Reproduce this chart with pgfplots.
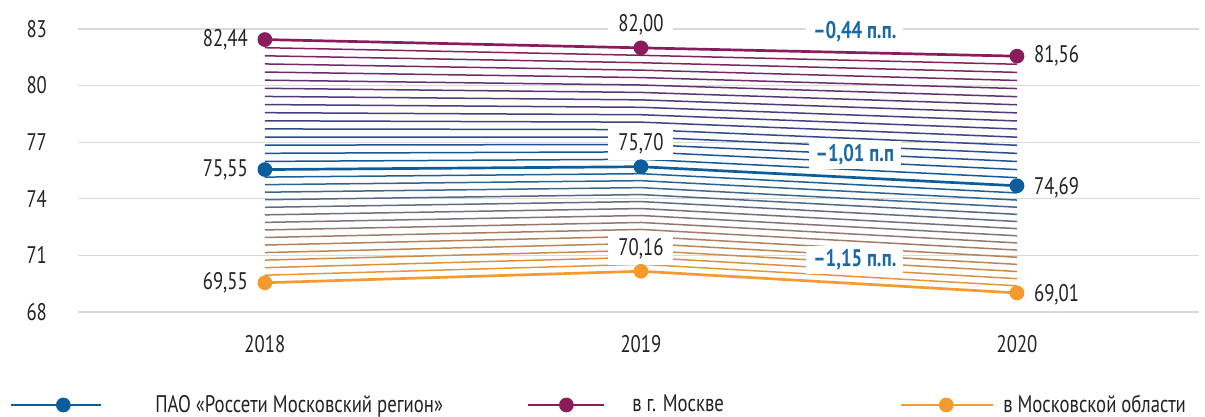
\documentclass[border=0pt]{standalone}
\usepackage{pgfplots}
\pgfplotsset{compat=1.18}
\usepackage{fontspec}
\setmainfont{PT Sans}[FakeStretch=0.78]

\definecolor{mcol}{HTML}{8B1C5C}
\definecolor{pcol}{HTML}{0B5D9C}
\definecolor{ocol}{HTML}{F59A2C}
\definecolor{midc}{HTML}{8C7476}
\definecolor{lcol}{HTML}{1B68A6}
\definecolor{tcol}{HTML}{222222}
\definecolor{gcol}{HTML}{D9D9D9}

\pgfplotsset{
  imgA/.style={legend image code/.code={%
    \draw[pcol, line width=1.35pt, mark=*, mark size=3pt, mark repeat=2, mark phase=2] plot coordinates {(0pt,0pt) (26pt,0pt) (45pt,0pt)};
    \path[draw=none] (0pt,0pt) -- (72pt,0pt);}},
  imgB/.style={legend image code/.code={%
    \draw[mcol, line width=1.35pt, mark=*, mark size=3pt, mark repeat=2, mark phase=2] plot coordinates {(0pt,0pt) (19pt,0pt) (38pt,0pt)};
    \path[draw=none] (0pt,0pt) -- (52pt,0pt);}},
  imgC/.style={legend image code/.code={%
    \draw[ocol, line width=1.35pt, mark=*, mark size=3pt, mark repeat=2, mark phase=2] plot coordinates {(0pt,0pt) (22.5pt,0pt) (46pt,0pt)};
    \path[draw=none] (0pt,0pt) -- (51pt,0pt);}},
  band/.style={line width=0.75pt, forget plot},
  serie/.style={line width=1.35pt, mark=*, mark size=3pt},
}

\begin{document}
\begin{tikzpicture}[font=\fontsize{12}{14}\selectfont]
\begin{axis}[
  at={(0pt,0pt)}, anchor=south west,
  scale only axis,
  width=560.5pt, height=141.5pt,
  xmin=2017.503, xmax=2020.484,
  ymin=68, ymax=83,
  clip=false,
  xtick={2018,2019,2020},
  xticklabels={2018,2019,2020},
  ytick={68,71,74,77,80,83},
  /pgf/number format/assume math mode=true,
  ymajorgrids,
  major grid style={draw=gcol, line width=0.6pt},
  axis line style={draw=none},
  tick style={draw=none},
  ticklabel style={text=tcol, font=\fontsize{12}{14}\selectfont},
  yticklabel style={xshift=-12pt},
  xticklabel style={yshift=-8pt},
  legend columns=3,
  legend style={at={(rel axis cs:0,0)}, anchor=west, xshift=-34pt, yshift=-46.5pt,
    draw=none, fill=none, inner sep=0pt, outer sep=0pt,
    nodes={inner sep=0pt, text=tcol}},
]
% thin lines between Moscow and PAO
\addplot[band, mcol!94!pcol] coordinates {(2018,82.009) (2019,81.606) (2020,81.131)};
\addplot[band, mcol!88!pcol] coordinates {(2018,81.579) (2019,81.213) (2020,80.701)};
\addplot[band, mcol!81!pcol] coordinates {(2018,81.148) (2019,80.819) (2020,80.272)};
\addplot[band, mcol!75!pcol] coordinates {(2018,80.718) (2019,80.425) (2020,79.843)};
\addplot[band, mcol!69!pcol] coordinates {(2018,80.287) (2019,80.031) (2020,79.413)};
\addplot[band, mcol!62!pcol] coordinates {(2018,79.856) (2019,79.638) (2020,78.984)};
\addplot[band, mcol!56!pcol] coordinates {(2018,79.426) (2019,79.244) (2020,78.554)};
\addplot[band, mcol!50!pcol] coordinates {(2018,78.995) (2019,78.850) (2020,78.125)};
\addplot[band, mcol!44!pcol] coordinates {(2018,78.564) (2019,78.456) (2020,77.696)};
\addplot[band, mcol!38!pcol] coordinates {(2018,78.134) (2019,78.063) (2020,77.266)};
\addplot[band, mcol!31!pcol] coordinates {(2018,77.703) (2019,77.669) (2020,76.837)};
\addplot[band, mcol!25!pcol] coordinates {(2018,77.273) (2019,77.275) (2020,76.408)};
\addplot[band, mcol!19!pcol] coordinates {(2018,76.842) (2019,76.881) (2020,75.978)};
\addplot[band, mcol!12!pcol] coordinates {(2018,76.411) (2019,76.488) (2020,75.549)};
\addplot[band, mcol!6!pcol]  coordinates {(2018,75.981) (2019,76.094) (2020,75.119)};
% thin lines between PAO and Moscow region
\addplot[band, pcol!87!midc] coordinates {(2018,75.150) (2019,75.331) (2020,74.311)};
\addplot[band, pcol!73!midc] coordinates {(2018,74.750) (2019,74.961) (2020,73.933)};
\addplot[band, pcol!60!midc] coordinates {(2018,74.350) (2019,74.592) (2020,73.554)};
\addplot[band, pcol!47!midc] coordinates {(2018,73.950) (2019,74.223) (2020,73.175)};
\addplot[band, pcol!33!midc] coordinates {(2018,73.550) (2019,73.853) (2020,72.797)};
\addplot[band, pcol!20!midc] coordinates {(2018,73.150) (2019,73.484) (2020,72.418)};
\addplot[band, pcol!7!midc]  coordinates {(2018,72.750) (2019,73.115) (2020,72.039)};
\addplot[band, midc!93!ocol] coordinates {(2018,72.350) (2019,72.745) (2020,71.661)};
\addplot[band, midc!80!ocol] coordinates {(2018,71.950) (2019,72.376) (2020,71.282)};
\addplot[band, midc!67!ocol] coordinates {(2018,71.550) (2019,72.007) (2020,70.903)};
\addplot[band, midc!53!ocol] coordinates {(2018,71.150) (2019,71.637) (2020,70.525)};
\addplot[band, midc!40!ocol] coordinates {(2018,70.750) (2019,71.268) (2020,70.146)};
\addplot[band, midc!27!ocol] coordinates {(2018,70.350) (2019,70.899) (2020,69.767)};
\addplot[band, midc!13!ocol] coordinates {(2018,69.950) (2019,70.529) (2020,69.389)};
% main series
\addplot[serie, pcol, imgA] coordinates {(2018,75.55) (2019,75.70) (2020,74.69)};
\addlegendentry{ПАО «Россети Московский регион»\rule{42pt}{0pt}}
\addplot[serie, mcol, imgB] coordinates {(2018,82.44) (2019,82.00) (2020,81.56)};
\addlegendentry{в г. Москве\rule{88pt}{0pt}}
\addplot[serie, ocol, imgC] coordinates {(2018,69.55) (2019,70.16) (2020,69.01)};
\addlegendentry{в Московской области}
% value labels
\node[anchor=east, text=tcol, xshift=-5pt] at (axis cs:2018,82.44) {82,44};
\node[anchor=east, text=tcol, xshift=-5pt] at (axis cs:2018,75.55) {75,55};
\node[anchor=east, text=tcol, xshift=-5pt] at (axis cs:2018,69.55) {69,55};
\node[anchor=west, text=tcol, xshift=5pt] at (axis cs:2020,81.56) {81,56};
\node[anchor=west, text=tcol, xshift=5pt, yshift=-1pt] at (axis cs:2020,74.69) {74,69};
\node[anchor=west, text=tcol, xshift=5pt, yshift=-1pt] at (axis cs:2020,69.01) {69,01};
\node[anchor=south, text=tcol, fill=white, inner xsep=5pt, inner ysep=3pt, yshift=3pt] at (axis cs:2019,82.00) {82,00};
\node[anchor=south, text=tcol, fill=white, inner xsep=5pt, inner ysep=3pt, yshift=3pt] at (axis cs:2019,75.70) {75,70};
\node[anchor=south, text=tcol, fill=white, inner xsep=5pt, inner ysep=3pt, yshift=3pt] at (axis cs:2019,70.16) {70,16};
% change labels
\node[text=lcol, font=\fontsize{12}{14}\selectfont\bfseries, fill=white, inner xsep=3.5pt, inner ysep=2pt] at (axis cs:2019.569,82.86) {–0,44 п.п.};
\node[text=lcol, font=\fontsize{12}{14}\selectfont\bfseries, fill=white, inner xsep=3.5pt, inner ysep=2pt] at (axis cs:2019.569,76.32) {–1,01 п.п};
\node[text=lcol, font=\fontsize{12}{14}\selectfont\bfseries, fill=white, inner xsep=3.5pt, inner ysep=2pt] at (axis cs:2019.569,70.76) {–1,15 п.п.};
\end{axis}
\pgfresetboundingbox
\path[use as bounding box] (-39pt,-52.5pt) rectangle (563.5pt,156pt);
\end{tikzpicture}
\end{document}
